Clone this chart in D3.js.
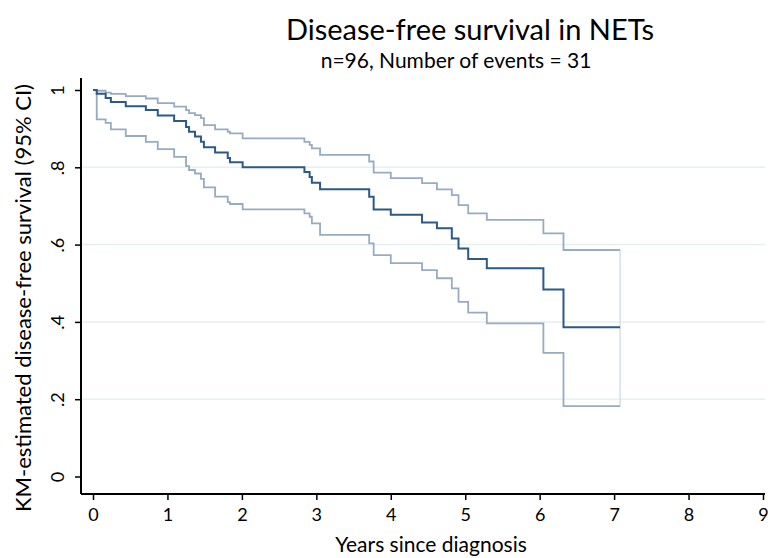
<!DOCTYPE html>
<html>
<head>
<meta charset="utf-8">
<script src="https://cdn.jsdelivr.net/npm/d3@7"></script>
<style>
  body { margin: 0; background: #fff; }
  text { font-family: Lato, "Open Sans", sans-serif; fill: #000; }
</style>
</head>
<body>
<div id="km-chart"></div>
<script>
// event times (years) and KM estimate / 95% CI just after each event
var eventTimes = [0.05, 0.17, 0.24, 0.44, 0.71, 0.87, 1.09, 1.25, 1.29, 1.37, 1.45, 1.49, 1.64, 1.81, 1.84, 2.01,
                  2.84, 2.91, 2.94, 3.05, 3.71, 3.77, 4.00, 4.42, 4.62, 4.82, 4.91, 5.04, 5.29, 6.05, 6.32];
var survival = [0.990, 0.979, 0.969, 0.958, 0.948, 0.934, 0.920, 0.904, 0.892, 0.880, 0.866, 0.852, 0.838, 0.824, 0.813, 0.800,
                0.788, 0.775, 0.760, 0.743, 0.724, 0.691, 0.677, 0.657, 0.642, 0.616, 0.590, 0.563, 0.539, 0.484, 0.386];
var upperCI = [0.998, 0.993, 0.990, 0.984, 0.978, 0.966, 0.957, 0.948, 0.940, 0.935, 0.927, 0.909, 0.898, 0.892, 0.888, 0.875,
               0.866, 0.858, 0.849, 0.832, 0.815, 0.786, 0.772, 0.759, 0.743, 0.728, 0.702, 0.681, 0.664, 0.629, 0.586];
var lowerCI = [0.924, 0.915, 0.898, 0.881, 0.866, 0.847, 0.827, 0.803, 0.793, 0.784, 0.770, 0.748, 0.724, 0.710, 0.705, 0.691,
               0.681, 0.672, 0.655, 0.625, 0.603, 0.573, 0.552, 0.534, 0.513, 0.487, 0.452, 0.424, 0.396, 0.320, 0.182];
var lastFollowUp = 7.08;

var xTicks = [0, 1, 2, 3, 4, 5, 6, 7, 8, 9];
var yTicks = [0, 0.2, 0.4, 0.6, 0.8, 1];
var gridTicks = [0.2, 0.4, 0.6, 0.8];

var chartTitle = "Disease-free survival in NETs";
var chartSubtitle = "n=96, Number of events = 31";
var xTitle = "Years since diagnosis";
var yTitle = "KM-estimated disease-free survival (95% CI)";

// set the dimensions and margins of the graph
var margin = {top: 78, right: 3, bottom: 64, left: 81},
    width = 768 - margin.left - margin.right,
    height = 558 - margin.top - margin.bottom;

var root = d3.select("#km-chart")
  .append("svg")
    .attr("width", 768)
    .attr("height", 558);

var svg = root.append("g")
    .attr("transform", "translate(" + margin.left + "," + margin.top + ")");

var x = d3.scaleLinear().domain([0, 9]).range([12, 682]);
var y = d3.scaleLinear().domain([0, 1]).range([398.5, 12]);

// gridlines
svg.append("g")
  .selectAll("line")
  .data(gridTicks)
  .enter().append("line")
    .attr("x1", 0)
    .attr("x2", width)
    .attr("y1", function(d) { return y(d); })
    .attr("y2", function(d) { return y(d); })
    .attr("stroke", "#e6eff2")
    .attr("stroke-width", 1.5);

// build step series
function series(vals, startVal, startTime) {
  var pts = [{t: startTime, s: startVal}];
  eventTimes.forEach(function(t, i) { pts.push({t: t, s: vals[i]}); });
  pts.push({t: lastFollowUp, s: vals[vals.length - 1]});
  return pts;
}

var line = d3.line()
    .x(function(d) { return x(d.t); })
    .y(function(d) { return y(d.s); })
    .curve(d3.curveStepAfter);

var upperPts = series(upperCI, 1, 0);
var lowerPts = series(lowerCI, 1, eventTimes[0]);
var survPts = series(survival, 1, 0);

// faint closing lines at start and end of the CI band
svg.append("path")
    .attr("d", line([{t: eventTimes[0], s: 1}, {t: eventTimes[0], s: lowerCI[0]}]))
    .attr("fill", "none").attr("stroke", "#d5dfe8").attr("stroke-width", 1.5);
svg.append("path")
    .attr("d", line([{t: lastFollowUp, s: upperCI[upperCI.length - 1]}, {t: lastFollowUp, s: lowerCI[lowerCI.length - 1]}]))
    .attr("fill", "none").attr("stroke", "#d5dfe8").attr("stroke-width", 1.5);

svg.append("path")
    .attr("d", line(upperPts))
    .attr("fill", "none").attr("stroke", "#97acc1").attr("stroke-width", 1.8);
svg.append("path")
    .attr("d", line(lowerPts))
    .attr("fill", "none").attr("stroke", "#97acc1").attr("stroke-width", 1.8);
svg.append("path")
    .attr("d", line(survPts))
    .attr("fill", "none").attr("stroke", "#2b5a86").attr("stroke-width", 2);

// axes
var yAxis = svg.append("g")
    .call(d3.axisLeft(y).tickValues(yTicks).tickSize(6).tickSizeOuter(0)
      .tickFormat(function(d) { return d === 0 ? "0" : d === 1 ? "1" : String(d).replace("0.", "."); }));
yAxis.select(".domain").remove();
yAxis.selectAll("line").attr("stroke", "#000").attr("stroke-width", 1.5);
yAxis.selectAll("text")
    .attr("x", 0)
    .attr("dy", "0.35em")
    .attr("text-anchor", "middle")
    .attr("transform", "translate(-23,0) rotate(-90)")
    .style("font-size", "18px")
    .style("font-family", "Lato, sans-serif");

var xAxis = svg.append("g")
    .attr("transform", "translate(0," + height + ")")
    .call(d3.axisBottom(x).tickValues(xTicks).tickSize(6).tickSizeOuter(0).tickFormat(d3.format("d")));
xAxis.select(".domain").remove();
xAxis.selectAll("line").attr("stroke", "#000").attr("stroke-width", 1.5);
xAxis.selectAll("text")
    .attr("dy", "1.0em")
    .style("font-size", "18px")
    .style("font-family", "Lato, sans-serif");

// axis lines
svg.append("line")
    .attr("x1", 0).attr("x2", 0).attr("y1", 0).attr("y2", height)
    .attr("stroke", "#000").attr("stroke-width", 2);
svg.append("line")
    .attr("x1", 0).attr("x2", width).attr("y1", height).attr("y2", height)
    .attr("stroke", "#000").attr("stroke-width", 2);

// titles
root.append("text")
    .attr("x", 470).attr("y", 40)
    .attr("text-anchor", "middle")
    .style("font-size", "29px")
    .text(chartTitle);
root.append("text")
    .attr("x", 456).attr("y", 68)
    .attr("text-anchor", "middle")
    .style("font-size", "21px")
    .text(chartSubtitle);
root.append("text")
    .attr("x", 431).attr("y", 552)
    .attr("text-anchor", "middle")
    .style("font-size", "21px")
    .text(xTitle);
root.append("text")
    .attr("transform", "translate(31,298) rotate(-90)")
    .attr("text-anchor", "middle")
    .style("font-size", "22px")
    .text(yTitle);
</script>
</body>
</html>
